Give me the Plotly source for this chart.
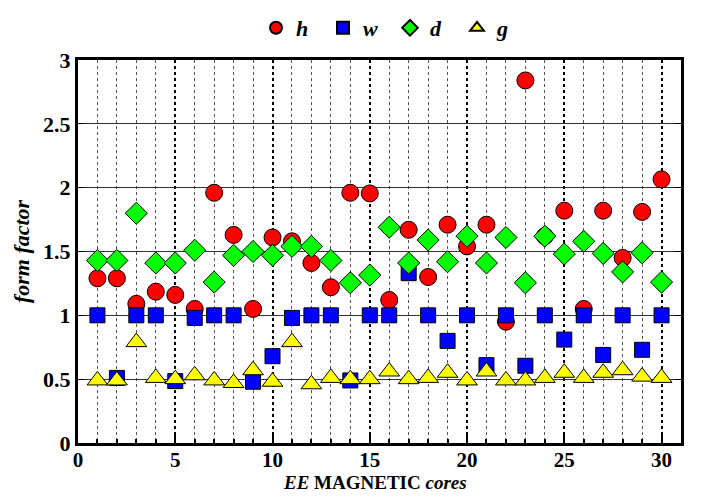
import plotly.graph_objects as go

cores = list(range(1, 31))
h_vals = [1.29, 1.29, 1.09, 1.185, 1.16, 1.05, 1.96, 1.63, 1.05, 1.61,
          1.58, 1.41, 1.22, 1.96, 1.955, 1.12, 1.67, 1.30, 1.71, 1.54,
          1.71, 0.95, 2.84, 1.62, 1.82, 1.05, 1.82, 1.45, 1.81, 2.065]
w_vals = [1.0, 0.51, 1.0, 1.0, 0.485, 0.98, 1.0, 1.0, 0.48, 0.68,
          0.98, 1.0, 1.0, 0.49, 1.0, 1.0, 1.33, 1.0, 0.80, 1.0,
          0.61, 1.0, 0.605, 1.0, 0.81, 1.0, 0.69, 1.0, 0.73, 1.0]
d_vals = [1.43, 1.43, 1.80, 1.41, 1.41, 1.51, 1.26, 1.47, 1.50, 1.47,
          1.54, 1.54, 1.43, 1.255, 1.315, 1.69, 1.41, 1.59, 1.42, 1.62,
          1.41, 1.61, 1.255, 1.62, 1.48, 1.58, 1.485, 1.34, 1.49, 1.26]
g_vals = [0.49, 0.49, 0.79, 0.51, 0.50, 0.53, 0.49, 0.47, 0.57, 0.48,
          0.79, 0.46, 0.51, 0.50, 0.50, 0.56, 0.50, 0.51, 0.55, 0.49,
          0.56, 0.49, 0.49, 0.51, 0.55, 0.51, 0.55, 0.57, 0.52, 0.51]

series = [
    ("h", h_vals, "circle", "#ff0000", 17),
    ("w", w_vals, "square", "#0000ff", 15),
    ("d", d_vals, "diamond", "#00ff00", 17),
    ("g", g_vals, "triangle-up", "#ffff00", 18),
]

X_TITLE = "<i>EE</i> MAGNETIC <i>cores</i>"
Y_TITLE = "<i>form factor</i>"

FONT = "Times New Roman, Liberation Serif, serif"

fig = go.Figure()
for name, vals, sym, col, sz in series:
    fig.add_trace(go.Scatter(
        x=cores, y=vals, mode="markers", name="<b><i>" + name + "</i></b>",
        marker=dict(symbol=sym, color=col, size=sz,
                    line=dict(color="black", width=1)),
    ))

W, H = 687, 486
PLOT_H = H - 52 - 51
fig.update_layout(
    width=W, height=H,
    margin=dict(l=70, r=14, t=52, b=51, autoexpand=False),
    paper_bgcolor="white", plot_bgcolor="white",
    font=dict(family=FONT, color="black"),
    showlegend=True,
    legend=dict(orientation="h", xref="container", yref="container",
                x=382 / W, xanchor="center", y=1 - 20 / H, yanchor="middle",
                font=dict(family=FONT, size=22, color="black"),
                entrywidth=22, entrywidthmode="pixels",
                itemsizing="constant", bgcolor="rgba(0,0,0,0)"),
    xaxis=dict(
        range=[0, 31], dtick=5, tick0=0,
        showline=True, linecolor="black", linewidth=3, mirror=True,
        ticks="inside", ticklen=8, tickwidth=2, tickcolor="black",
        showgrid=True, gridcolor="black", griddash="dot", gridwidth=2,
        zeroline=False,
        tickfont=dict(family=FONT, size=21, weight="bold"),
        ticklabelstandoff=-4,
        minor=dict(dtick=1, showgrid=True, gridcolor="#555555", griddash="dot",
                   gridwidth=1, ticks="inside", ticklen=4, tickcolor="black"),
    ),
    yaxis=dict(
        range=[0, 3], dtick=0.5, tick0=0,
        showline=True, linecolor="black", linewidth=3, mirror="ticks",
        ticks="inside", ticklen=6, tickwidth=1, tickcolor="black",
        showgrid=True, gridcolor="#333333", gridwidth=1,
        zeroline=False,
        tickfont=dict(family=FONT, size=22, weight="bold"),
        title=dict(text=Y_TITLE,
                   font=dict(family=FONT, size=22, weight="bold"), standoff=8),
    ),
)

fig.add_annotation(text=X_TITLE, xref="paper", yref="paper",
                   x=0.5 - 5 / 603, y=-39 / PLOT_H, xanchor="center", yanchor="middle",
                   showarrow=False,
                   font=dict(family=FONT, size=19, weight="bold", color="black"))

fig.write_html("out.html")
